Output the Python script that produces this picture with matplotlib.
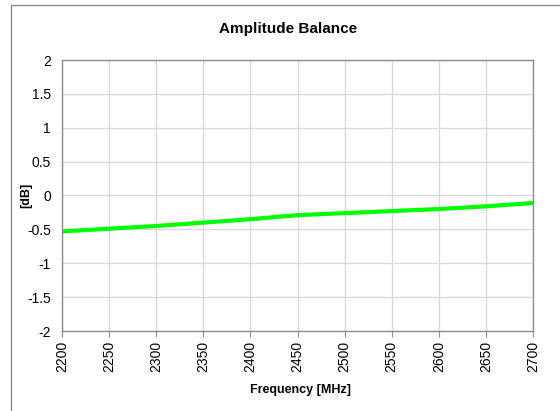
import numpy as np
import matplotlib
matplotlib.use('Agg')
import matplotlib.pyplot as plt
from matplotlib.patches import Rectangle
plt.rcParams.update({'font.family': ['Liberation Sans', 'DejaVu Sans'], 'font.size': 10})

# data
freq = [2200, 2250, 2300, 2350, 2400, 2450, 2500, 2550, 2600, 2650, 2700]
balance = [-0.53, -0.49, -0.45, -0.40, -0.35, -0.29, -0.26, -0.23, -0.20, -0.16, -0.11]
xticks = np.arange(2200, 2701, 50)
yticks = [-2, -1.5, -1, -0.5, 0, 0.5, 1, 1.5, 2]
ytick_labels = ['-2', '-1.5', '-1', '-0.5', '0', '0.5', '1', '1.5', '2']

W, H = 560, 411
fig = plt.figure(figsize=(W/100, H/100), dpi=100)
# outer chart border (runs off the right/bottom edge like the original)
fig.patches.append(Rectangle((11/W, -0.05), 1.0, 1 - 5/H + 0.05, transform=fig.transFigure,
                             fill=False, edgecolor='#8c8c8c', linewidth=1.0))

ax = fig.add_axes([62/W, 1 - 331/H, (533 - 62)/W, (331 - 60)/H])
ax.plot(freq, balance, color='#00ff00', linewidth=3, solid_capstyle='butt')

ax.set_xlim(2200, 2700)
ax.set_ylim(-2, 2)
ax.set_xticks(xticks)
ax.set_xticklabels([str(x) for x in xticks], rotation=90)
ax.set_yticks(yticks)
ax.set_yticklabels(ytick_labels)
ax.grid(True, color='#d9d9d9', linewidth=1)
ax.set_axisbelow(True)

for s in ax.spines.values():
    s.set_color('#8c8c8c')
    s.set_linewidth(1)
ax.tick_params(axis='x', direction='out', length=4, color='#8c8c8c', labelsize=10, pad=3)
ax.tick_params(axis='y', length=0, labelsize=10, pad=8)

# title and axis labels placed like the source chart
fig.text(288/W, 1 - 29/H, 'Amplitude Balance', fontsize=11, fontweight='bold', ha='center', va='center')
fig.text(301/W, 1 - 390/H, 'Frequency [MHz]', fontsize=9, fontweight='bold', ha='center', va='center')
fig.text(26/W, 1 - 195/H, '[dB]', fontsize=9, fontweight='bold', ha='center', va='center', rotation=90)

fig.savefig('out.png', dpi=100)
